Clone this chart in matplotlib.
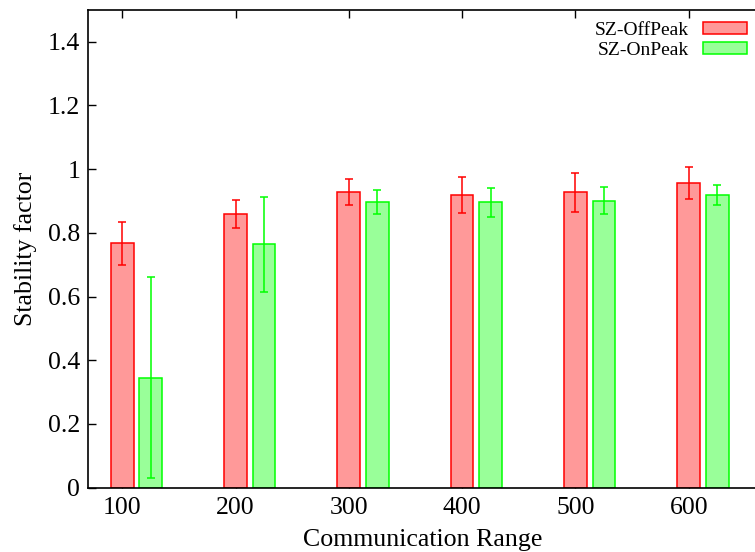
import numpy as np
import matplotlib
matplotlib.use("Agg")
import matplotlib.pyplot as plt
from matplotlib.patches import Rectangle
from matplotlib.ticker import FuncFormatter

# data
ranges = ['100', '200', '300', '400', '500', '600']
off_peak = [0.767, 0.859, 0.928, 0.919, 0.927, 0.956]
off_peak_err = [0.067, 0.045, 0.041, 0.058, 0.061, 0.050]
on_peak = [0.345, 0.764, 0.896, 0.896, 0.901, 0.919]
on_peak_err = [0.316, 0.150, 0.038, 0.046, 0.043, 0.031]

plt.rcParams['font.family'] = ['Liberation Serif', 'DejaVu Serif']

fig = plt.figure(figsize=(7.55, 5.52), dpi=100)
ax = fig.add_axes([0.1172, 0.1165, 0.885, 0.8655])

x = np.arange(len(ranges))
w = 0.2
off = 0.252

ax.bar(x, off_peak, w, color='#ff9999', edgecolor='#ff0000', linewidth=1.1, zorder=2)
ax.errorbar(x, off_peak, yerr=off_peak_err, fmt='none', ecolor='#ff0000',
            elinewidth=1.1, capsize=3, capthick=1.1, zorder=3)
ax.bar(x + off, on_peak, w, color='#99ff99', edgecolor='#00ff00', linewidth=1.1, zorder=2)
ax.errorbar(x + off, on_peak, yerr=on_peak_err, fmt='none', ecolor='#00ff00',
            elinewidth=1.1, capsize=3, capthick=1.1, zorder=3)

ax.set_xlim(-0.298, 5.6)
ax.set_ylim(0, 1.5)
ax.set_xticks(x)
ax.set_xticklabels(ranges)
ax.set_yticks(np.arange(0, 1.41, 0.2))
ax.yaxis.set_major_formatter(FuncFormatter(lambda v, p: '%g' % round(v, 2)))
ax.tick_params(axis='both', direction='in', labelsize=18.5, width=1, length=6)
ax.tick_params(axis='x', top=True, bottom=True, pad=7)
ax.tick_params(axis='y', right=False, pad=6)
for s in ax.spines.values():
    s.set_linewidth(1.2)

ax.set_xlabel('Communication Range', fontsize=18.6, labelpad=7)
ax.set_ylabel('Stability factor', fontsize=18.6, labelpad=8)

handles = [Rectangle((0, 0), 1, 1, facecolor='#ff9999', edgecolor='#ff0000', linewidth=1.1),
           Rectangle((0, 0), 1, 1, facecolor='#99ff99', edgecolor='#00ff00', linewidth=1.1)]
ax.legend(handles, ['SZ-OffPeak', 'SZ-OnPeak'], loc='upper right', frameon=False,
          markerfirst=False, fontsize=14, handlelength=2.3, handleheight=0.55,
          labelspacing=0.15, handletextpad=0.7, borderaxespad=0,
          bbox_to_anchor=(755 / 755, 1 - 14 / 552), bbox_transform=fig.transFigure)

plt.savefig('out.png', dpi=100)
